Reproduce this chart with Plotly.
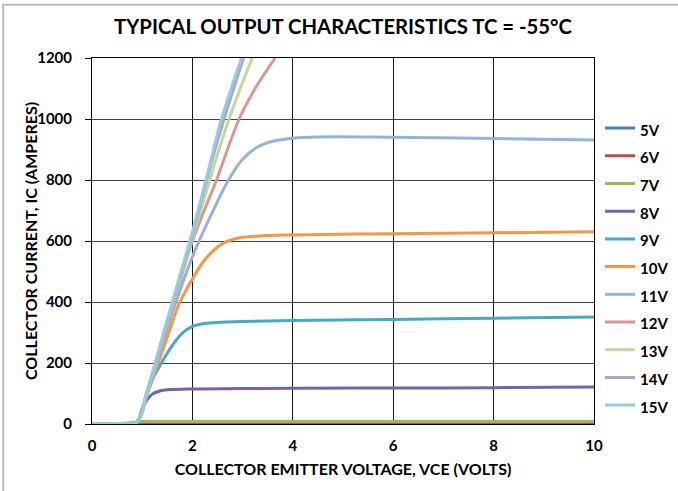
import plotly.graph_objects as go

# ---- data ----
names = ["5V", "6V", "7V", "8V", "9V", "10V", "11V", "12V", "13V", "14V", "15V"]
colors = ["#4A7EBB", "#BE4B48", "#98B954", "#7D60A0", "#46AAC5", "#F79646",
          "#95B3D7", "#D99694", "#C3D69B", "#B3A2C7", "#93CDDD"]

x_5v = [0, 2, 4, 6, 8, 10]
y_5v = [0, 0, 0, 0, 0, 0]
x_6v = [0, 2, 4, 6, 8, 10]
y_6v = [0, 0, 0, 0, 0, 0]
x_7v = [0, 0.5, 0.89, 1.0, 2, 4, 6, 8, 10]
y_7v = [0, 1, 6, 8, 8, 8, 8, 8, 8]
x_8v = [0, 0.5, 0.89, 1.0, 1.1, 1.2, 1.35, 1.5, 2, 3, 4, 6, 8, 10]
y_8v = [0, 1, 7, 50, 80, 98, 108, 112, 115, 116, 117, 118, 119, 121]
x_9v = [0, 0.5, 0.89, 1.05, 1.2, 1.4, 1.6, 1.8, 2.0, 2.2, 2.5, 3, 4, 6, 8, 10]
y_9v = [0, 1, 7, 78, 145, 205, 258, 298, 320, 329, 333, 336, 339, 343, 347, 351]
x_10v = [0, 0.5, 0.89, 1.1, 1.32, 1.55, 1.75, 2.0, 2.2, 2.4, 2.6, 2.8, 3.0, 3.5, 4, 6, 8, 10]
y_10v = [0, 1, 7, 98, 200, 310, 400, 475, 528, 566, 592, 605, 612, 618, 620, 624, 627, 630]
x_11v = [0, 0.5, 0.89, 1.1, 1.3, 1.6, 2.0, 2.3, 2.72, 3.0, 3.3, 3.6, 4.0, 4.5, 6, 8, 10]
y_11v = [0, 1, 7, 100, 205, 365, 548, 660, 800, 868, 908, 927, 937, 941, 940, 936, 931]
x_12v = [0, 0.5, 0.89, 1.1, 1.3, 1.6, 2.0, 2.48, 2.93, 3.25, 3.65]
y_12v = [0, 1, 7, 103, 212, 380, 600, 800, 1000, 1100, 1200]
x_13v = [0, 0.5, 0.89, 1.1, 1.3, 1.6, 2.0, 2.4, 2.73, 3.19]
y_13v = [0, 1, 7, 105, 218, 390, 610, 830, 1000, 1200]
x_14v = [0, 0.5, 0.89, 1.1, 1.3, 1.6, 2.0, 2.3, 2.63, 3.02]
y_14v = [0, 1, 7, 108, 222, 395, 620, 810, 1000, 1200]
x_15v = [0, 0.5, 0.89, 1.1, 1.3, 1.6, 2.0, 2.3, 2.58, 2.98]
y_15v = [0, 1, 7, 110, 225, 400, 630, 820, 1000, 1200]

xs = [x_5v, x_6v, x_7v, x_8v, x_9v, x_10v, x_11v, x_12v, x_13v, x_14v, x_15v]
ys = [y_5v, y_6v, y_7v, y_8v, y_9v, y_10v, y_11v, y_12v, y_13v, y_14v, y_15v]

x_ticks = [0, 2, 4, 6, 8, 10]
y_ticks = [0, 200, 400, 600, 800, 1000, 1200]

FONT = "Lato"

fig = go.Figure()
for n, c, x, y in zip(names, colors, xs, ys):
    fig.add_trace(go.Scatter(
        x=x, y=y, mode="lines",
        name=f"<span style='font-size:15px'><b>{n}</b></span>",
        line=dict(color=c, width=3, shape="spline", smoothing=1.0),
    ))

fig.update_layout(
    width=678, height=491, autosize=False,
    margin=dict(l=92, r=84, t=58, b=67, autoexpand=False),
    paper_bgcolor="white", plot_bgcolor="white",
    font=dict(family=FONT, color="black"),
    title=dict(text="<b>TYPICAL OUTPUT CHARACTERISTICS TC = -55°C</b>",
               x=0.5, xanchor="center", xref="paper", y=0.945, yanchor="middle",
               font=dict(size=20.3, family=FONT, color="black")),
    legend=dict(x=1.012, y=0.86, xanchor="left", yanchor="top",
                font=dict(size=19, family=FONT, color="black"),
                itemwidth=30, bgcolor="rgba(0,0,0,0)", tracegroupgap=0),
    showlegend=True,
)
fig.update_xaxes(
    range=[0, 10], tickvals=x_ticks, ticktext=[f"<b>{v}</b>" for v in x_ticks],
    tickfont=dict(size=15, family=FONT), ticks="", ticklabelstandoff=8,
    showgrid=True, gridcolor="#1a1a1a", gridwidth=1, showline=True,
    linecolor="black", linewidth=1, mirror=True, zeroline=False,
    title=dict(text="<b>COLLECTOR EMITTER VOLTAGE, VCE (VOLTS)</b>",
               font=dict(size=16, family=FONT), standoff=10),
)
fig.update_yaxes(
    range=[0, 1200], tickvals=y_ticks, ticktext=[f"<b>{v}</b>" for v in y_ticks],
    tickfont=dict(size=15, family=FONT), ticks="outside", ticklen=6,
    ticklabelstandoff=10,
    tickcolor="black", showgrid=True, gridcolor="#404040", gridwidth=1,
    showline=True, linecolor="black", linewidth=1, mirror=True, zeroline=False,
)
fig.add_annotation(text="<b>COLLECTOR CURRENT, IC (AMPERES)</b>",
                   xref="paper", yref="paper", x=-0.1235, y=0.5,
                   xanchor="center", yanchor="middle", textangle=-90,
                   showarrow=False, font=dict(size=16, family=FONT, color="black"))
fig.add_shape(type="rect", xref="paper", yref="paper",
              x0=-0.177, x1=1.3, y0=-0.25, y1=1.1456,
              line=dict(color="#bdbdbd", width=2), layer="below")

fig.write_html("out.html",
               config={"responsive": False, "displayModeBar": False},
               post_script="document.body.style.margin='0';"
                           "document.body.style.overflow='hidden';")
